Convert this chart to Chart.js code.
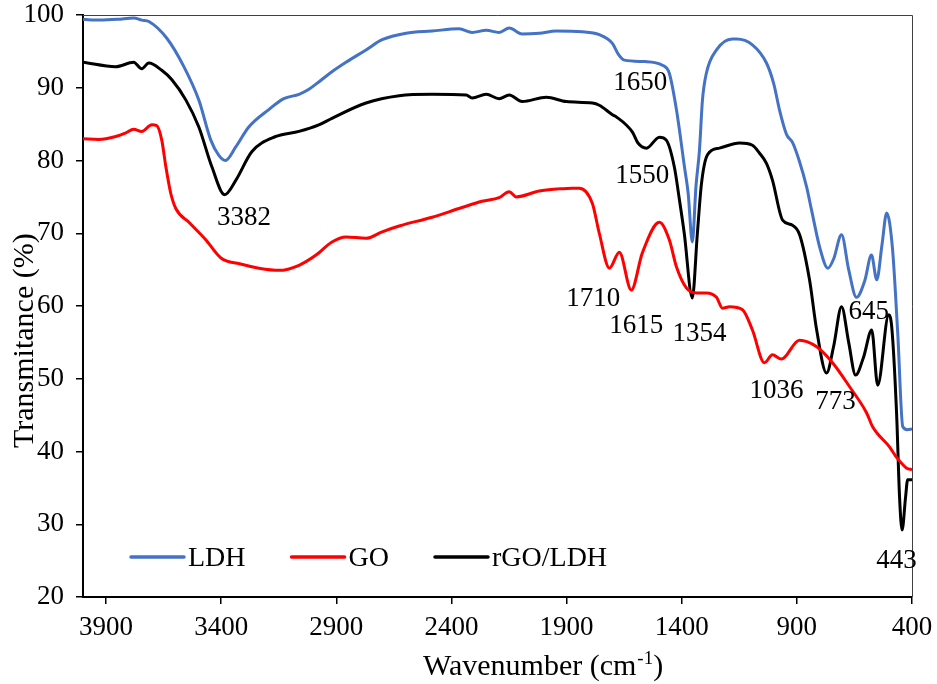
<!DOCTYPE html>
<html>
<head>
<meta charset="utf-8">
<script src="https://cdn.jsdelivr.net/npm/chart.js@4.4.1/dist/chart.umd.min.js"></script>
<style>
  html, body { margin: 0; padding: 0; background: #ffffff; }
  canvas { display: block; }
</style>
</head>
<body>
<canvas id="ftir" width="937" height="684"></canvas>
<script>
// FTIR spectra: wavenumber (cm-1) against transmittance (%)
const ldhWavenumbers = [4000, 3930, 3850, 3780, 3745, 3714, 3636, 3562, 3497, 3445, 3410, 3382, 3336, 3280, 3193, 3128, 3062, 3019, 2976, 2919, 2858, 2771, 2701, 2597, 2484, 2367, 2310, 2249, 2193, 2149, 2093, 2019, 1945, 1832, 1758, 1701, 1675, 1649, 1560, 1484, 1454, 1423, 1388, 1372, 1354, 1338, 1323, 1310, 1293, 1249, 1180, 1162, 1093, 1032, 1000, 975, 945, 919, 890, 858, 835, 801, 765, 740, 706, 675, 641, 605, 576, 553, 530, 510, 485, 462, 440, 420, 400];
const ldhTransmittance = [99.4, 99.3, 99.4, 99.6, 99.3, 99.1, 96.8, 92.9, 88.3, 82.8, 80.7, 80.0, 81.9, 84.6, 87.0, 88.5, 89.1, 89.8, 90.8, 92.2, 93.5, 95.2, 96.6, 97.5, 97.8, 98.1, 97.6, 97.9, 97.6, 98.2, 97.4, 97.5, 97.8, 97.7, 97.3, 96.1, 94.6, 93.8, 93.6, 93.1, 92.0, 87.0, 79.1, 75.5, 68.8, 76.5, 81.4, 88.3, 92.0, 95.2, 96.7, 96.7, 95.9, 93.4, 90.5, 86.9, 83.6, 82.5, 80.0, 76.4, 73.0, 68.1, 65.2, 66.5, 69.8, 65.0, 61.2, 63.5, 67.0, 63.6, 68.5, 72.8, 68.0, 56.3, 43.4, 43.0, 43.1];

const goWavenumbers = [4000, 3932, 3858, 3814, 3780, 3745, 3701, 3680, 3658, 3640, 3619, 3597, 3540, 3467, 3401, 3320, 3236, 3149, 3062, 2988, 2919, 2858, 2771, 2701, 2627, 2484, 2367, 2267, 2193, 2149, 2119, 2019, 1932, 1875, 1845, 1788, 1758, 1714, 1671, 1619, 1571, 1497, 1454, 1423, 1380, 1336, 1293, 1249, 1223, 1193, 1136, 1093, 1041, 1006, 967, 889, 814, 745, 671, 597, 571, 497, 467, 423, 400];
const goTransmittance = [83.0, 82.9, 83.3, 83.8, 84.3, 84.0, 84.9, 84.8, 82.8, 79.1, 75.5, 73.4, 71.5, 69.1, 66.6, 65.8, 65.2, 64.9, 65.6, 67.0, 68.8, 69.5, 69.3, 70.2, 71.0, 72.2, 73.4, 74.4, 74.9, 75.7, 75.0, 75.8, 76.1, 76.2, 76.2, 74.1, 70.0, 65.2, 67.4, 62.2, 67.3, 71.5, 69.1, 65.4, 62.5, 61.8, 61.8, 61.2, 59.7, 59.9, 59.5, 56.7, 52.2, 53.3, 52.7, 55.3, 54.4, 52.2, 48.9, 45.3, 43.4, 40.6, 39.2, 37.7, 37.5];

const compositeWavenumbers = [4000, 3858, 3780, 3745, 3714, 3658, 3614, 3553, 3497, 3440, 3385, 3336, 3267, 3162, 3062, 2976, 2919, 2771, 2627, 2484, 2336, 2310, 2249, 2193, 2149, 2093, 1988, 1901, 1788, 1758, 1701, 1684, 1614, 1590, 1553, 1497, 1467, 1432, 1410, 1389, 1354, 1332, 1314, 1288, 1236, 1149, 1093, 1062, 1032, 1006, 962, 919, 888, 845, 814, 771, 740, 706, 675, 645, 610, 575, 549, 501, 488, 467, 454, 443, 428, 419, 400];
const compositeTransmittance = [93.5, 92.9, 93.5, 92.6, 93.4, 92.4, 91.1, 88.3, 84.6, 79.1, 75.3, 77.3, 81.2, 83.3, 84.0, 84.9, 85.8, 87.9, 88.9, 89.1, 89.0, 88.6, 89.1, 88.5, 89.0, 88.1, 88.7, 88.1, 87.9, 87.6, 86.3, 86.0, 83.9, 82.4, 81.7, 83.2, 82.8, 79.1, 74.6, 70.0, 61.1, 70.0, 76.9, 80.8, 81.7, 82.4, 82.1, 81.0, 79.6, 77.3, 71.8, 71.1, 69.8, 63.6, 56.7, 50.8, 54.5, 59.9, 55.0, 50.5, 53.0, 56.7, 49.1, 58.8, 57.1, 45.3, 33.7, 29.2, 33.7, 36.1, 36.1];

const seriesNames = ['LDH', 'GO', 'rGO/LDH'];
const xTickValues = [3900, 3400, 2900, 2400, 1900, 1400, 900, 400];

// peak annotations and where their text sits (data units)
const peakLabels = ['3382', '1650', '1550', '1710', '1615', '1354', '1036', '773', '645', '443'];
const peakLabelAnchorX = [3301, 1580, 1571, 1784, 1597, 1323, 988, 732, 588, 467];
const peakLabelAnchorY = [72.1, 90.65, 77.9, 61.0, 57.25, 56.15, 48.3, 46.8, 59.2, 24.95];

const SERIF = '"Liberation Serif", "Times New Roman", serif';

function toPoints(xs, ys) {
  return xs.map((v, i) => ({ x: v, y: ys[i] })).sort((a, b) => a.x - b.x);
}

// no extra room for overhanging tick labels: the layout padding sets the plot box
function noScalePadding(s) {
  s.paddingLeft = 0; s.paddingRight = 0; s.paddingTop = 0; s.paddingBottom = 0;
}

const decorations = {
  id: 'decorations',
  afterDraw(chart) {
    const { ctx, chartArea: area, scales } = chart;
    const xs = scales.x, ys = scales.y;
    ctx.save();

    // thin frame on the top and right sides of the plot
    ctx.strokeStyle = '#404040';
    ctx.lineWidth = 1;
    ctx.beginPath();
    ctx.moveTo(area.left, area.top + 0.5);
    ctx.lineTo(area.right + 0.5, area.top + 0.5);
    ctx.lineTo(area.right + 0.5, area.bottom);
    ctx.stroke();

    // peak positions
    ctx.fillStyle = '#000';
    ctx.font = '27px ' + SERIF;
    ctx.textAlign = 'center';
    ctx.textBaseline = 'middle';
    peakLabels.forEach((t, i) => {
      ctx.fillText(t, xs.getPixelForValue(peakLabelAnchorX[i]), ys.getPixelForValue(peakLabelAnchorY[i]));
    });

    // legend inside the plot, lower left
    ctx.font = '28px ' + SERIF;
    ctx.textAlign = 'left';
    ctx.textBaseline = 'middle';
    let lx = area.left + 48;
    const ly = 557;
    chart.data.datasets.forEach(ds => {
      ctx.strokeStyle = ds.borderColor;
      ctx.lineWidth = 3.5;
      ctx.lineCap = 'round';
      ctx.beginPath();
      ctx.moveTo(lx, ly);
      ctx.lineTo(lx + 53, ly);
      ctx.stroke();
      ctx.fillStyle = '#000';
      ctx.fillText(ds.label, lx + 57, ly + 2);
      lx += 57 + ctx.measureText(ds.label).width + 46;
    });

    // axis titles
    ctx.fillStyle = '#000';
    ctx.textBaseline = 'alphabetic';
    ctx.font = '30px ' + SERIF;
    ctx.textAlign = 'left';
    let tx = 423;
    const tyBase = 675;
    const main = 'Wavenumber (cm';
    ctx.fillText(main, tx, tyBase);
    tx += ctx.measureText(main).width;
    ctx.font = '19px ' + SERIF;
    ctx.fillText('-1', tx + 1, tyBase - 11);
    tx += ctx.measureText('-1').width + 1;
    ctx.font = '30px ' + SERIF;
    ctx.fillText(')', tx, tyBase);

    ctx.translate(33, 448);
    ctx.rotate(-Math.PI / 2);
    ctx.textAlign = 'left';
    ctx.fillText('Transmitance (%)', 0, 0);

    ctx.restore();
  }
};

const colors = ['#4472C4', '#FF0000', '#000000'];
const seriesData = [
  toPoints(ldhWavenumbers, ldhTransmittance),
  toPoints(goWavenumbers, goTransmittance),
  toPoints(compositeWavenumbers, compositeTransmittance)
];

new Chart(document.getElementById('ftir'), {
  type: 'line',
  data: {
    datasets: seriesNames.map((name, i) => ({
      label: name,
      data: seriesData[i],
      borderColor: colors[i],
      backgroundColor: colors[i],
      borderWidth: 3,
      pointRadius: 0,
      fill: false,
      cubicInterpolationMode: 'monotone'
    }))
  },
  options: {
    responsive: false,
    animation: false,
    devicePixelRatio: 1,
    layout: { padding: { top: 15, right: 25, left: 0, bottom: 0 } },
    plugins: { legend: { display: false }, tooltip: { enabled: false } },
    scales: {
      x: {
        type: 'linear',
        reverse: true,
        min: 400,
        max: 4000,
        afterBuildTicks: s => { s.ticks = xTickValues.map(v => ({ value: v })); },
        afterFit: s => { s.height = 87; noScalePadding(s); },
        grid: { drawOnChartArea: false, drawTicks: true, tickLength: 7, color: '#000', lineWidth: 1.5 },
        border: { display: true, color: '#000', width: 2 },
        ticks: {
          color: '#000',
          font: { family: SERIF, size: 27 },
          padding: 8,
          maxRotation: 0,
          autoSkip: false,
          callback: v => String(v)
        }
      },
      y: {
        min: 20,
        max: 100,
        afterFit: s => { s.width = 83; noScalePadding(s); },
        grid: { drawOnChartArea: false, drawTicks: true, tickLength: 7, color: '#000', lineWidth: 1.5 },
        border: { display: true, color: '#000', width: 2 },
        ticks: {
          stepSize: 10,
          color: '#000',
          font: { family: SERIF, size: 27 },
          padding: 12
        }
      }
    }
  },
  plugins: [decorations]
});
</script>
</body>
</html>
